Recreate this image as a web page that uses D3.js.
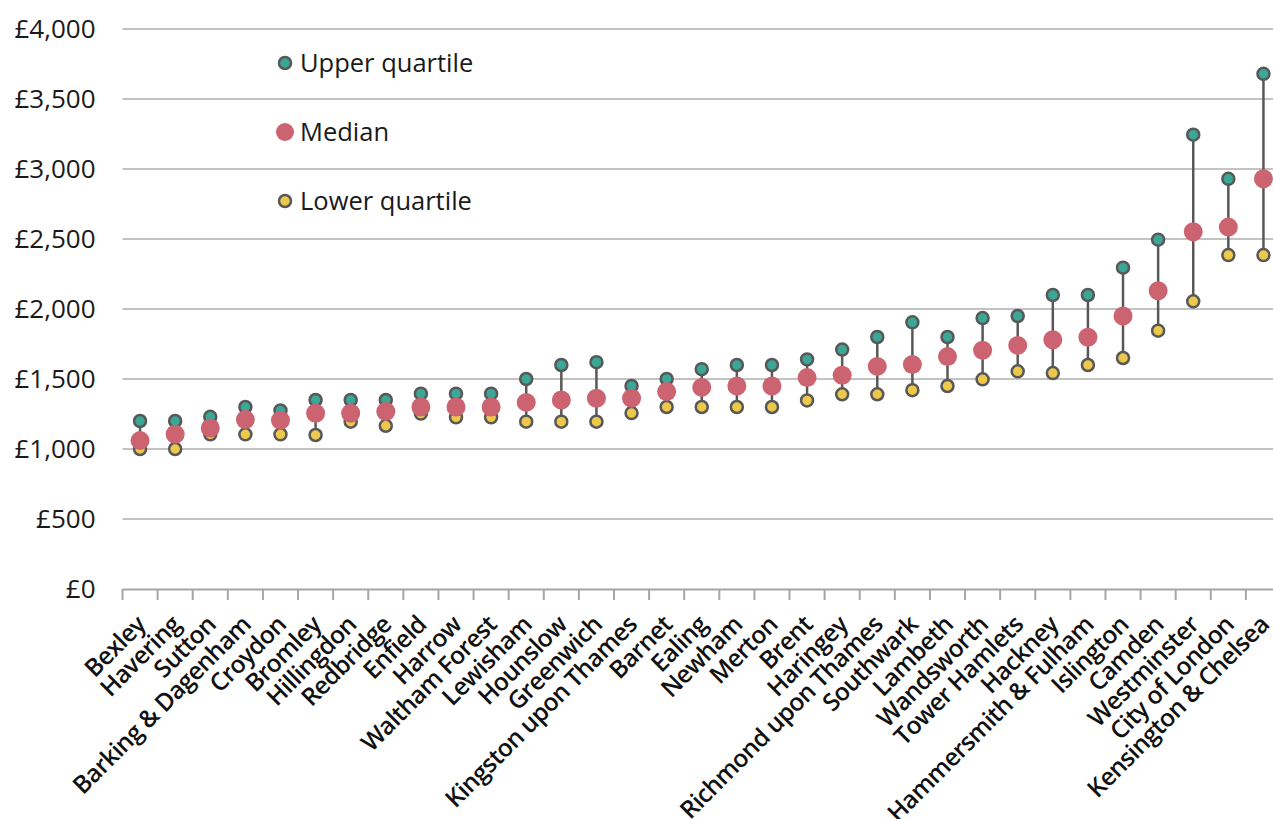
<!DOCTYPE html>
<html>
<head>
<meta charset="utf-8">
<script src="https://cdn.jsdelivr.net/npm/d3@7"></script>
<style>
  body { margin: 0; background: #fff; }
  text { font-family: "Open Sans", "DejaVu Sans", sans-serif; fill: #1a1a1a; }
</style>
</head>
<body>
<div id="chart"></div>
<script>
// boroughs, cheapest to most expensive
let boroughs = ["Bexley", "Havering", "Sutton", "Barking & Dagenham", "Croydon", "Bromley",
    "Hillingdon", "Redbridge", "Enfield", "Harrow", "Waltham Forest", "Lewisham", "Hounslow",
    "Greenwich", "Kingston upon Thames", "Barnet", "Ealing", "Newham", "Merton", "Brent",
    "Haringey", "Richmond upon Thames", "Southwark", "Lambeth", "Wandsworth", "Tower Hamlets",
    "Hackney", "Hammersmith & Fulham", "Islington", "Camden", "Westminster", "City of London",
    "Kensington & Chelsea"];

let upperQuartile = [1200, 1200, 1230, 1300, 1275, 1350, 1350, 1350, 1395, 1395, 1395, 1500, 1600,
    1620, 1450, 1500, 1570, 1600, 1600, 1640, 1710, 1800, 1905, 1800, 1935, 1950, 2100, 2100,
    2295, 2495, 3245, 2930, 3680];

let median = [1060, 1105, 1150, 1210, 1205, 1255, 1255, 1268, 1300, 1300, 1300, 1333, 1350,
    1362, 1362, 1410, 1440, 1450, 1450, 1510, 1527, 1590, 1603, 1660, 1705, 1740, 1780, 1798,
    1950, 2130, 2552, 2585, 2930];

let lowerQuartile = [1000, 1000, 1105, 1105, 1105, 1100, 1195, 1166, 1253, 1226, 1226, 1195, 1195,
    1195, 1257, 1300, 1300, 1300, 1300, 1347, 1391, 1391, 1420, 1450, 1498, 1555, 1542, 1600,
    1650, 1845, 2055, 2385, 2385];

let yTicks = [0, 500, 1000, 1500, 2000, 2500, 3000, 3500, 4000];

let legendItems = [
    {label: "Upper quartile", key: "upper"},
    {label: "Median", key: "median"},
    {label: "Lower quartile", key: "lower"}
];

let colours = {upper: "#3aa797", median: "#cc6371", lower: "#ecc94b", stroke: "#585858"};

let width = 1273, height = 819;
let margin = {top: 29, right: -8, bottom: 230, left: 122.5};

let svg = d3.select("#chart").append("svg")
    .attr("width", width)
    .attr("height", height);

let x = d3.scaleBand()
    .domain(boroughs)
    .range([margin.left, width - margin.right]);

let y = d3.scaleLinear()
    .domain([0, 4000])
    .range([height - margin.bottom, margin.top]);

// gridlines
svg.append("g")
    .selectAll("line")
    .data(yTicks.filter(function (d) { return d > 0; }))
    .enter().append("line")
    .attr("x1", margin.left)
    .attr("x2", width)
    .attr("y1", function (d) { return y(d); })
    .attr("y2", function (d) { return y(d); })
    .style("stroke", "#c3c3c3")
    .style("stroke-width", 2);

// y axis labels
let yAxis = svg.append("g")
    .attr("transform", "translate(" + (margin.left - 27) + ",0)")
    .call(d3.axisLeft(y).tickValues(yTicks).tickSize(0).tickPadding(0)
        .tickFormat(function (d) { return "£" + d3.format(",")(d); }));
yAxis.select(".domain").remove();
yAxis.selectAll("text")
    .style("font-size", "26px")
    .style("fill", "#1a1a1a");

// x axis
let xAxis = svg.append("g")
    .attr("transform", "translate(0," + y(0) + ")")
    .call(d3.axisBottom(x).tickSize(0).tickPadding(0));
xAxis.select(".domain").style("stroke", "#a6a6a6").style("stroke-width", 2);

// ticks sit between the categories
xAxis.selectAll(".sep")
    .data(boroughs)
    .enter().append("line")
    .attr("class", "sep")
    .attr("x1", function (d) { return x(d); })
    .attr("x2", function (d) { return x(d); })
    .attr("y1", 0)
    .attr("y2", 11)
    .style("stroke", "#a6a6a6")
    .style("stroke-width", 2);

xAxis.selectAll(".tick text")
    .attr("text-anchor", "end")
    .attr("dy", "0.35em")
    .attr("transform", "translate(1,31) rotate(-45)")
    .style("font-size", "24.5px")
    .style("font-weight", 600)
    .style("letter-spacing", "-0.6px")
    .style("fill", "#111");

// whiskers
let cx = function (i) { return x(boroughs[i]) + x.bandwidth() / 2; };

svg.append("g")
    .selectAll("line")
    .data(boroughs)
    .enter().append("line")
    .attr("x1", function (d, i) { return cx(i); })
    .attr("x2", function (d, i) { return cx(i); })
    .attr("y1", function (d, i) { return y(upperQuartile[i]); })
    .attr("y2", function (d, i) { return y(lowerQuartile[i]); })
    .style("stroke", colours.stroke)
    .style("stroke-width", 2.5);

function drawDots(values, fill, r, stroke) {
    svg.append("g")
        .selectAll("circle")
        .data(values)
        .enter().append("circle")
        .attr("cx", function (d, i) { return cx(i); })
        .attr("cy", function (d) { return y(d); })
        .attr("r", r)
        .style("fill", fill)
        .style("stroke", stroke ? colours.stroke : "none")
        .style("stroke-width", 2.5);
}

drawDots(upperQuartile, colours.upper, 6, true);
drawDots(lowerQuartile, colours.lower, 6, true);
drawDots(median, colours.median, 9.5, false);

// legend
let legend = svg.append("g")
    .attr("transform", "translate(285,63)")
    .selectAll("g")
    .data(legendItems)
    .enter().append("g")
    .attr("transform", function (d, i) { return "translate(0," + (i * 69) + ")"; });

legend.append("circle")
    .attr("r", function (d) { return d.key === "median" ? 9 : 6; })
    .style("fill", function (d) { return colours[d.key]; })
    .style("stroke", function (d) { return d.key === "median" ? "none" : colours.stroke; })
    .style("stroke-width", 2.5);

legend.append("text")
    .attr("x", 15)
    .attr("dy", "0.35em")
    .style("font-size", "25.5px")
    .text(function (d) { return d.label; });
</script>
</body>
</html>
